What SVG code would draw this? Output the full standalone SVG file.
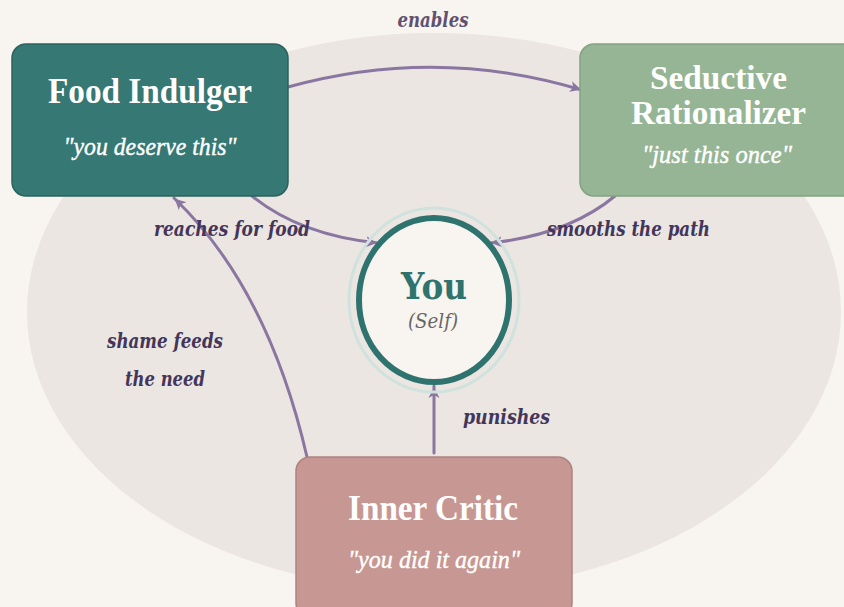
<svg xmlns="http://www.w3.org/2000/svg" width="844" height="607" viewBox="0 0 844 607">
  <style>
    .title { font-family: "Liberation Serif", "Times New Roman", serif; font-weight: bold; font-size: 36px; fill: #ffffff; text-anchor: middle; }
    .title2 { font-family: "Liberation Serif", "Times New Roman", serif; font-weight: bold; font-size: 34px; fill: #ffffff; text-anchor: middle; }
    .quote { font-family: "Liberation Serif", "Times New Roman", serif; font-style: italic; font-size: 25px; fill: #ffffff; text-anchor: middle; stroke: #ffffff; stroke-width: 0.4; }
    .label { font-family: "DejaVu Serif", serif; font-weight: bold; font-style: italic; font-size: 21px; fill: #43365a; text-anchor: middle; }
    .conn { fill: none; stroke: #8a76a0; stroke-width: 3; stroke-linecap: round; }
  </style>
  <defs>
    <marker id="arrow" markerUnits="userSpaceOnUse" markerWidth="14" markerHeight="14" viewBox="0 0 14 14" refX="12" refY="7" orient="auto">
      <path d="M0,1.5 L11,7 L0,12.5 L3,7 z" fill="#8a76a0"/>
    </marker>
  </defs>
  <rect x="0" y="0" width="844" height="607" fill="#f8f4f0"/>
  <ellipse cx="434" cy="312" rx="407" ry="279" fill="#ebe6e2"/>

  <g id="connectors">
    <path class="conn" d="M288,87 Q436,46 582,90" marker-end="url(#arrow)"/>
    <path class="conn" d="M252,196 Q300,235 378,243" marker-end="url(#arrow)"/>
    <path class="conn" d="M615,196 Q568,235 490,243" marker-end="url(#arrow)"/>
    <path class="conn" d="M307,457 Q268,288 174,198" marker-end="url(#arrow)"/>
    <path class="conn" d="M434,453 L434,386" marker-end="url(#arrow)"/>
  </g>

  <g id="food-indulger">
    <rect x="12" y="44" width="276" height="152" rx="14" ry="14" fill="#367873" stroke="#2b625d" stroke-width="1.5"/>
    <text class="title" x="150" y="103" textLength="204" lengthAdjust="spacingAndGlyphs">Food Indulger</text>
    <text class="quote" x="150" y="155" textLength="173" lengthAdjust="spacingAndGlyphs">"you deserve this"</text>
  </g>

  <g id="seductive-rationalizer">
    <rect x="580" y="44" width="276" height="152" rx="14" ry="14" fill="#96b595" stroke="#83a282" stroke-width="1.5"/>
    <text class="title2" x="718.5" y="89" textLength="137" lengthAdjust="spacingAndGlyphs">Seductive</text>
    <text class="title2" x="718.5" y="124" textLength="175" lengthAdjust="spacingAndGlyphs">Rationalizer</text>
    <text class="quote" x="717" y="163" textLength="150" lengthAdjust="spacingAndGlyphs">"just this once"</text>
  </g>

  <g id="inner-critic">
    <rect x="296" y="457" width="276" height="160" rx="14" ry="14" fill="#c79793" stroke="#b0827e" stroke-width="1.5"/>
    <text class="title" x="433" y="520" textLength="170" lengthAdjust="spacingAndGlyphs">Inner Critic</text>
    <text class="quote" x="434" y="568" textLength="172" lengthAdjust="spacingAndGlyphs">"you did it again"</text>
  </g>

  <g id="you">
    <ellipse cx="434" cy="300" rx="85" ry="92" fill="none" stroke="#d0e2de" stroke-width="3"/>
    <ellipse cx="434" cy="300" rx="75" ry="82" fill="#f8f4f0" stroke="#2e736e" stroke-width="6"/>
    <text x="434" y="299" text-anchor="middle" font-family="'DejaVu Serif', serif" font-weight="bold" font-size="38" fill="#2e736e" textLength="66" lengthAdjust="spacingAndGlyphs">You</text>
    <text x="433" y="328" text-anchor="middle" font-family="'DejaVu Serif', serif" font-style="italic" font-size="20" fill="#666666" textLength="50" lengthAdjust="spacingAndGlyphs">(Self)</text>
  </g>

  <g id="labels">
    <text class="label" x="433" y="27" style="fill:#5e5272" textLength="71" lengthAdjust="spacingAndGlyphs">enables</text>
    <text class="label" x="232" y="236" textLength="156" lengthAdjust="spacingAndGlyphs">reaches for food</text>
    <text class="label" x="628.5" y="236" textLength="163" lengthAdjust="spacingAndGlyphs">smooths the path</text>
    <text class="label" x="165" y="348" textLength="116" lengthAdjust="spacingAndGlyphs">shame feeds</text>
    <text class="label" x="165" y="386" textLength="80" lengthAdjust="spacingAndGlyphs">the need</text>
    <text class="label" x="506.5" y="424" textLength="87" lengthAdjust="spacingAndGlyphs">punishes</text>
  </g>
</svg>
